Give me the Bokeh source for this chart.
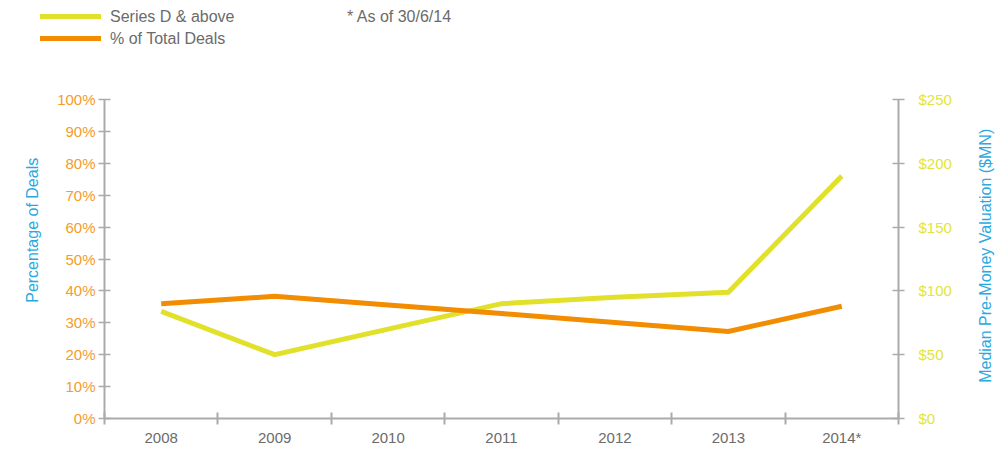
import math
from bokeh.plotting import figure
from bokeh.layouts import column, row
from bokeh.models import (Range1d, LinearAxis, FixedTicker, PrintfTickFormatter, Div)
from bokeh.core.properties import value
from bokeh.embed import file_html
from bokeh.resources import INLINE

years = ["2008", "2009", "2010", "2011", "2012", "2013", "2014*"]
series_d_valuation = [84, 50, 70, 90, 95, 99, 190]      # $MN, right axis
pct_total_deals = [36.0, 38.3, 35.6, 32.9, 30.1, 27.3, 35.2]  # %, left axis
legend_labels = ["Series D &amp; above", "% of Total Deals"]
note_text = "* As of 30/6/14"
left_title = "Percentage of Deals"
right_title = "Median Pre-Money Valuation ($MN)"

FONT = "Liberation Sans"
YELLOW = "#E1E12C"
ORANGE = "#F28C00"
YEL_TXT = "#E3E340"
ORA_TXT = "#F49C2C"
BLUE = "#2AA9DF"
GRAY = "#ABABAB"
TXT = "#6B6B6B"
TICK_FS = "15px"
TITLE_FS = "16px"

xs = [i + 0.5 for i in range(len(years))]

# ---- legend strip above the chart ----
TOP_H = 60
items = ""
for i, (lab, col) in enumerate(zip(legend_labels, [YELLOW, ORANGE])):
    cy = 17 + 22 * i
    items += (f'<div style="position:absolute;left:40px;top:{cy-3}px;width:61px;height:5px;'
              f'background:{col}"></div>'
              f'<div style="position:absolute;left:110px;top:{cy-10}px;line-height:20px;'
              f'white-space:nowrap">{lab}</div>')
items += (f'<div style="position:absolute;left:347px;top:7px;line-height:20px;'
          f'white-space:nowrap">{note_text}</div>')
html = (f'<div style="position:relative;width:995px;height:{TOP_H}px;font-family:\'{FONT}\';'
        f'font-size:{TITLE_FS};color:{TXT};margin:0;padding:0">{items}</div>')
top = Div(text=html, width=995, height=TOP_H, margin=0)

# ---- main chart ----
LW, RW = 50, 22
MAIN_H = 450 - TOP_H
p = figure(width=995 - LW - RW, height=MAIN_H, output_backend="svg", toolbar_location=None,
           x_range=Range1d(0, len(years)), y_range=Range1d(0, 100),
           min_border_left=104 - LW, min_border_right=97 - RW, min_border_top=99 - TOP_H,
           min_border_bottom=32, x_axis_type=None, y_axis_type=None)
p.outline_line_color = None
p.grid.visible = False
p.extra_y_ranges = {"val": Range1d(0, 250)}

# bottom axis
xax = LinearAxis(ticker=FixedTicker(ticks=xs, minor_ticks=list(range(len(years) + 1))),
                 major_label_overrides={x: y for x, y in zip(xs, years)})
xax.major_tick_line_color = None
xax.minor_tick_line_color = GRAY
xax.minor_tick_line_width = 2
xax.minor_tick_in = 6
xax.minor_tick_out = 6
xax.axis_line_color = GRAY
xax.axis_line_width = 2
xax.major_label_text_font = FONT
xax.major_label_text_font_size = TICK_FS
xax.major_label_text_color = TXT
xax.major_label_standoff = 4
p.add_layout(xax, "below")

# left axis (title drawn in the strip to the left)
lax = LinearAxis(ticker=FixedTicker(ticks=list(range(0, 101, 10))),
                 formatter=PrintfTickFormatter(format="%d%%"))
lax.axis_line_color = GRAY
lax.axis_line_width = 2
lax.major_tick_line_color = GRAY
lax.major_tick_line_width = 1.5
lax.major_tick_in = 6
lax.major_tick_out = 6
lax.minor_tick_line_color = None
lax.major_label_text_font = FONT
lax.major_label_text_font_size = TICK_FS
lax.major_label_text_color = ORA_TXT
lax.major_label_standoff = 3
p.add_layout(lax, "left")

# right axis (title drawn in the strip to the right)
rax = LinearAxis(y_range_name="val", ticker=FixedTicker(ticks=list(range(0, 251, 50))),
                 formatter=PrintfTickFormatter(format="$%d"))
rax.axis_line_color = GRAY
rax.axis_line_width = 2
rax.major_tick_line_color = GRAY
rax.major_tick_line_width = 1.5
rax.major_tick_in = 6
rax.major_tick_out = 6
rax.minor_tick_line_color = None
rax.major_label_text_font = FONT
rax.major_label_text_font_size = TICK_FS
rax.major_label_text_color = YEL_TXT
rax.major_label_standoff = 14
p.add_layout(rax, "right")

p.line(xs, series_d_valuation, y_range_name="val", line_color=YELLOW,
       line_width=5, line_join="miter")
p.line(xs, pct_total_deals, line_color=ORANGE, line_width=5, line_join="miter")


def title_strip(width, text, fx, fy):
    f = figure(width=width, height=MAIN_H, output_backend="svg", toolbar_location=None,
               x_range=Range1d(0, 1), y_range=Range1d(0, 1),
               min_border_left=0, min_border_right=0, min_border_top=99 - TOP_H,
               min_border_bottom=32, x_axis_type=None, y_axis_type=None)
    f.outline_line_color = None
    f.grid.visible = False
    f.text(x=[fx], y=[fy], text=[text], angle=math.pi / 2,
           text_font=value(FONT), text_font_size=TITLE_FS, text_color=BLUE,
           text_align="center", text_baseline="middle")
    return f


lf = title_strip(LW, left_title, 0.64, 0.59)
rf = title_strip(RW, right_title, 0.55, 0.51)

layout = column(top, row(lf, p, rf, spacing=0), spacing=0)
open("out.html", "w").write(file_html(layout, INLINE))
